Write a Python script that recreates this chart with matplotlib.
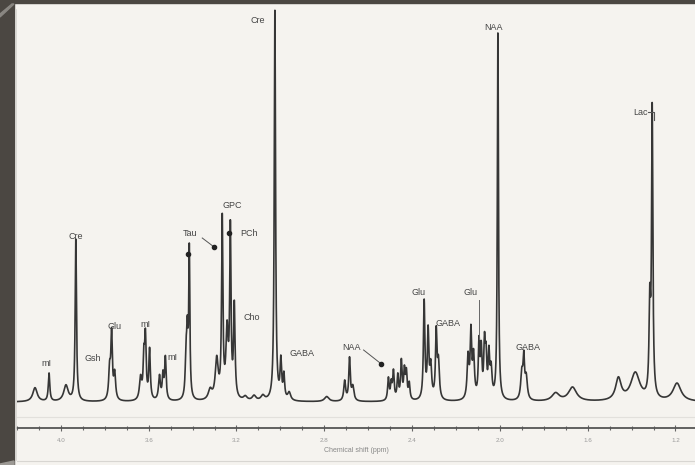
import matplotlib
matplotlib.use("Agg")
import matplotlib.pyplot as plt
import numpy as np
from matplotlib.patches import Rectangle, Polygon
from matplotlib.lines import Line2D

# ---------------------------------------------------------------------------
# Data
# ---------------------------------------------------------------------------

# peak centre (ppm), height (a.u.), half width (ppm)
PEAK_PPM = [
    4.118, 4.054, 3.977, 3.932,
    3.778, 3.769, 3.755,
    3.637, 3.622, 3.615, 3.596, 3.551, 3.535, 3.524,
    3.430, 3.424, 3.415,
    3.320, 3.290, 3.265, 3.243, 3.228, 3.210,
    3.160, 3.120, 3.080, 3.025, 2.998, 2.984, 2.960,
    2.789, 2.707, 2.685, 2.670,
    2.508, 2.495, 2.485, 2.465, 2.449, 2.435, 2.426, 2.413,
    2.345, 2.327, 2.315, 2.290, 2.280,
    2.145, 2.132, 2.120, 2.095, 2.085, 2.070, 2.063, 2.050, 2.040, 2.009,
    1.900, 1.891, 1.880, 1.746, 1.669,
    1.460, 1.383, 1.317, 1.306, 1.193,
]
PEAK_HEIGHT = [
    14, 28, 16, 162,
    30, 64, 26,
    22, 38, 60, 50, 24, 24, 42,
    38, 60, 146,
    10, 40, 178, 66, 166, 92,
    4, 5, 5, 390, 38, 24, 8,
    5, 20, 42, 14,
    22, 16, 28, 24, 38, 28, 26, 16,
    98, 66, 32, 66, 36,
    42, 64, 42, 54, 46, 52, 38, 42, 28, 368,
    26, 38, 22, 8, 14,
    22, 28, 88, 286, 18,
]
PEAK_WIDTH = [
    0.012, 0.004, 0.012, 0.0035,
    0.005, 0.004, 0.005,
    0.006, 0.004, 0.004, 0.004, 0.005, 0.004, 0.004,
    0.004, 0.004, 0.003,
    0.010, 0.008, 0.0035, 0.006, 0.0035, 0.004,
    0.010, 0.010, 0.010, 0.0035, 0.004, 0.004, 0.008,
    0.012, 0.005, 0.004, 0.006,
    0.004, 0.004, 0.004, 0.004, 0.004, 0.004, 0.004, 0.004,
    0.004, 0.004, 0.005, 0.004, 0.005,
    0.005, 0.004, 0.005, 0.004, 0.004, 0.004, 0.004, 0.004, 0.005, 0.003,
    0.006, 0.004, 0.006, 0.020, 0.022,
    0.015, 0.025, 0.004, 0.0035, 0.022,
]
BASELINE = 3

# peak labels: text, ppm, height
LABEL_TEXT = ["mI", "Cre", "Gsh", "Glu", "mI", "mI", "Tau", "GPC", "PCh", "Cho",
              "Cre", "GABA", "NAA", "Glu", "GABA", "Glu", "NAA", "GABA", "Lac"]
LABEL_PPM = [4.068, 3.932, 3.855, 3.755, 3.615, 3.492, 3.410, 3.220, 3.143, 3.129,
             3.102, 2.902, 2.676, 2.372, 2.236, 2.132, 2.027, 1.873, 1.361]
LABEL_Y = [42, 169, 47, 79, 81, 48, 172, 200, 172, 88,
           385, 52, 58, 113, 82, 113, 378, 58, 293]

DOT_PPM = [3.420, 3.302, 3.234, 2.540]
DOT_Y = [151, 158, 172, 41]

TICK_MAJOR = [4.0, 3.6, 3.2, 2.8, 2.4, 2.0, 1.6, 1.2]

BG = "#f5f3ef"
INK = "#363636"
FRAME = "#4b4742"


def spectrum(ppm):
    y = np.full_like(ppm, BASELINE, dtype=float)
    for c, h, w in zip(PEAK_PPM, PEAK_HEIGHT, PEAK_WIDTH):
        y += h * w**2 / ((ppm - c) ** 2 + w**2)
    return y


def main():
    plt.rcParams["font.family"] = ["Liberation Sans", "DejaVu Sans"]

    fig = plt.figure(figsize=(6.95, 4.65), dpi=100, facecolor=BG)
    W, H = 695, 465
    ax = fig.add_axes([17 / W, 1 - 428 / H, 1 - 17 / W, (428 - 5) / H])
    ax.set_facecolor(BG)

    ppm = np.linspace(4.2, 1.1, 8000)
    ax.plot(ppm, spectrum(ppm), color=INK, lw=1.2)

    ax.set_xlim(4.186, 1.111)
    ax.set_ylim(-23, 400)

    # labels and leader lines
    for t, x, y in zip(LABEL_TEXT, LABEL_PPM, LABEL_Y):
        ax.text(x, y, t, ha="center", va="center", fontsize=6.5, color="#444444")
    ax.scatter(DOT_PPM, DOT_Y, s=9, color="#222222", zorder=3)
    ax.plot([3.356, 3.302], [167, 158], color="#555555", lw=0.7)
    ax.plot([2.621, 2.540], [55, 41], color="#555555", lw=0.7)
    ax.plot([2.095, 2.095], [105, 66], color="#666666", lw=0.7)
    ax.plot([1.325, 1.300, 1.300], [293, 293, 285], color="#555555", lw=0.8)

    # axis
    for s in ["left", "right", "top"]:
        ax.spines[s].set_visible(False)
    ax.spines["bottom"].set_color("#555555")
    ax.spines["bottom"].set_linewidth(1.3)
    ax.set_yticks([])
    ax.set_xticks(TICK_MAJOR)
    ax.set_xticklabels([f"{v:.1f}" for v in TICK_MAJOR])
    ax.set_xticks(np.arange(1.2, 4.21, 0.1), minor=True)
    ax.tick_params(axis="x", which="both", direction="inout", length=4, width=0.8,
                   color="#666666", labelsize=4.5, labelcolor="#999999", pad=5)
    ax.tick_params(axis="x", which="minor", length=3)
    ax.set_xlabel("Chemical shift (ppm)", fontsize=5, color="#888888", labelpad=3)

    # faint guide lines
    fig.add_artist(Line2D([17 / W, 1], [1 - 417 / H] * 2, color="#e2e0dc", lw=0.8))
    fig.add_artist(Line2D([17 / W, 1], [1 - 461 / H] * 2, color="#d8d6d2", lw=0.8))

    # photo frame
    fig.add_artist(Rectangle((0, 0), 14 / W, 1, color=FRAME, transform=fig.transFigure))
    fig.add_artist(Rectangle((0, 1 - 3 / H), 1, 3 / H, color=FRAME, transform=fig.transFigure))
    fig.add_artist(Line2D([15.5 / W] * 2, [0.01, 1 - 10 / H], color="#d6d4d0", lw=1.2))
    fig.add_artist(Polygon([(0, 1 - 14 / H), (12 / W, 1 - 4 / H), (14 / W, 1 - 4 / H), (0, 1 - 17 / H)],
                           closed=True, color="#8a8782", transform=fig.transFigure))
    fig.add_artist(Polygon([(0, 0), (14 / W, 0), (14 / W, 4 / H), (0, 1 / H)],
                           closed=True, color="#9c9994", transform=fig.transFigure))

    fig.savefig("out.png", dpi=100, facecolor=BG)
    plt.close(fig)


if __name__ == "__main__":
    main()
